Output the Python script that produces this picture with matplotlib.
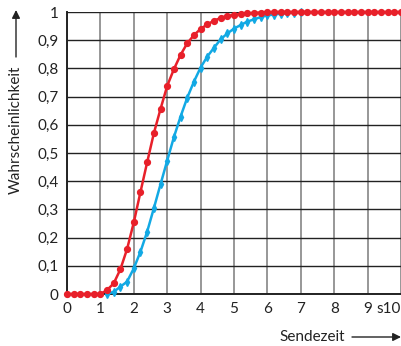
import numpy as np
import matplotlib.pyplot as plt

plt.rcParams['font.family'] = ['Lato', 'DejaVu Sans']

# sample positions (s)
x_red = np.round(np.arange(0, 10.01, 0.2), 1)
x_blue = np.round(np.arange(1.2, 7.01, 0.2), 1)

y_red = [0, 0, 0, 0, 0, 0,
         0.014, 0.038, 0.088, 0.16, 0.254, 0.362, 0.467, 0.57, 0.656, 0.738,
         0.797, 0.848, 0.889, 0.918, 0.94, 0.956, 0.969, 0.979, 0.986, 0.99,
         0.993, 0.995, 0.997, 0.998, 0.999,
         1, 1, 1, 1, 1, 1, 1, 1, 1, 1, 1, 1, 1, 1, 1, 1, 1, 1, 1, 1]

y_blue = [0.0, 0.008, 0.026, 0.044, 0.091, 0.15, 0.221, 0.304, 0.389, 0.473,
          0.556, 0.629, 0.696, 0.753, 0.803, 0.842, 0.873, 0.903, 0.924, 0.941,
          0.954, 0.966, 0.974, 0.982, 0.988, 0.991, 0.994, 0.996, 0.998, 0.999]

xticks = list(range(11))
xlabels = ['0', '1', '2', '3', '4', '5', '6', '7', '8', '9', 's10']
yticks = [i / 10 for i in range(11)]
ylabels = ['0', '0,1', '0,2', '0,3', '0,4', '0,5', '0,6', '0,7', '0,8', '0,9', '1']

RED = '#e8202a'
BLUE = '#12a9e4'

fig = plt.figure(figsize=(4.02, 3.46), dpi=100)
ax = fig.add_axes([67 / 402, 1 - 294 / 346, 334 / 402, 282 / 346])

ax.plot(x_blue, y_blue, color=BLUE, lw=1.8, marker='d', ms=4.2, zorder=3, clip_on=False)
ax.plot(x_red, y_red, color=RED, lw=1.8, marker='o', ms=4.2, zorder=4, clip_on=False)

ax.set_xlim(0, 10)
ax.set_ylim(0, 1)
ax.set_xticks(xticks)
ax.set_xticklabels(xlabels)
ax.set_yticks(yticks)
ax.set_yticklabels(ylabels)
ax.get_xticklabels()[-1].set_horizontalalignment('right')
ax.get_xticklabels()[-1].set_x(10.07)

ax.grid(axis='x', color='#7a7a7a', lw=1.1)
ax.grid(axis='y', color='#222222', lw=1.0)
ax.tick_params(length=0, labelsize=11, colors='#222222', pad=6)
for side in ['top', 'right']:
    ax.spines[side].set_visible(False)
for side in ['left', 'bottom']:
    ax.spines[side].set_color('#222222')
    ax.spines[side].set_linewidth(1.4)

fig.text(16 / 402, 1 - 130 / 346, 'Wahrscheinlichkeit', rotation=90,
         ha='center', va='center', fontsize=11, color='#222222')
ax.annotate('', xy=(16 / 402, 1 - 10 / 346), xytext=(16 / 402, 1 - 57 / 346),
            xycoords='figure fraction',
            arrowprops=dict(arrowstyle='-|>', color='#222222', lw=1.0,
                            mutation_scale=12, shrinkA=0, shrinkB=0))

fig.text(312 / 402, 1 - 337 / 346, 'Sendezeit', ha='center', va='center',
         fontsize=11, color='#222222')
ax.annotate('', xy=(401 / 402, 1 - 337 / 346), xytext=(352 / 402, 1 - 337 / 346),
            xycoords='figure fraction',
            arrowprops=dict(arrowstyle='-|>', color='#222222', lw=1.0,
                            mutation_scale=12, shrinkA=0, shrinkB=0))

fig.savefig('out.png', dpi=100)
